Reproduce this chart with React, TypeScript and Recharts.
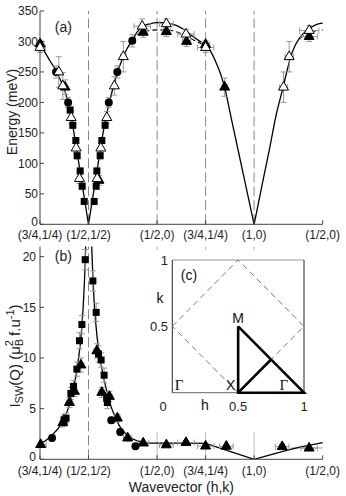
import React from 'react';
import {
  ComposedChart, Line, Scatter, XAxis, YAxis, ReferenceLine, ReferenceDot, ErrorBar,
} from 'recharts';

const FONT = '"Liberation Sans", Arial, Helvetica, sans-serif';
const X_MAX = 2.06066;

// path-length positions of the high-symmetry points along the cut
const xTickValues = [0, 0.35355, 0.85355, 1.20711, 1.56066, 2.06066];
const xTickLabels = ['(3/4,1/4)', '(1/2,1/2)', '(1/2,0)', '(3/4,1/4)', '(1,0)', '(1/2,0)'];
const energyTicks = [0, 50, 100, 150, 200, 250, 300, 350];
const intensityTicks = [0, 5, 10, 15, 20];

type Pt = [number, number];
type EPt = [number, number, number, number]; // x, value, x-error, value-error

// ---------- panel (a): dispersion ----------
const energyFitLeft: Pt[] = [
  [0, 294], [0.0366, 282], [0.0732, 268], [0.1098, 255], [0.1464, 238], [0.1757, 223],
  [0.1977, 206], [0.2196, 187], [0.2343, 168], [0.2489, 148], [0.2782, 107], [0.3075, 65],
  [0.3294, 34], [0.35355, 0],
];
const energyFitMid: Pt[] = [
  [0.35355, 0], [0.3768, 33], [0.4022, 69], [0.4239, 100], [0.4529, 141], [0.4746, 168],
  [0.4964, 192], [0.5109, 205], [0.5326, 224], [0.5616, 247], [0.5978, 270], [0.6341, 288],
  [0.6703, 301], [0.7065, 315], [0.7428, 324], [0.8007, 329], [0.8536, 331], [0.9087, 331],
  [0.9588, 329], [1.0161, 324], [1.0662, 317], [1.1163, 308], [1.1593, 301], [1.20711, 294],
  [1.2459, 283], [1.2898, 262], [1.3191, 245], [1.3484, 222], [1.3923, 176], [1.4362, 130],
  [1.4801, 84], [1.5241, 38], [1.56066, 0],
];
const energyFitMidAlt: Pt[] = [
  [0.6703, 301], [0.7065, 310], [0.7428, 315], [0.8007, 318], [0.8536, 319], [0.9087, 319],
  [0.9588, 318], [1.0161, 314], [1.0662, 309], [1.1163, 303], [1.1593, 298], [1.20711, 294],
];
const energyFitRight: Pt[] = [
  [1.56066, 0], [1.5976, 41], [1.6346, 82], [1.6715, 122], [1.721, 179], [1.7697, 223],
  [1.8007, 252], [1.8318, 278], [1.8635, 295], [1.8931, 306], [1.9374, 317], [1.9817, 324],
  [2.0186, 328], [2.06066, 330],
];
const energyFitRightAlt: Pt[] = [
  [1.8931, 305], [1.9374, 311], [1.9817, 315], [2.0186, 318], [2.06066, 319],
];

const energyOpenTriangles: EPt[] = [
  [0, 290, 0.04, 8], [0.1369, 250, 0.01, 25], [0.1662, 227, 0.01, 22], [0.2269, 175, 0.01, 10],
  [0.2635, 125, 0.01, 8], [0.2877, 75, 0.01, 8], [0.4166, 75, 0.01, 8], [0.4435, 125, 0.01, 8],
  [0.4869, 175, 0.01, 10], [0.542, 227, 0.01, 15], [0.6072, 275, 0.02, 25], [0.7449, 325, 0.06, 12],
  [0.9209, 329, 0.05, 8], [1.0641, 312, 0.06, 8], [1.20711, 290, 0.06, 8], [1.775, 225, 0.03, 25],
  [1.8164, 275, 0.03, 25], [1.9624, 318, 0.07, 8],
];
const energyFilledTriangles: EPt[] = [
  [0, 296, 0.03, 6], [0.183, 225, 0.01, 12], [0.43, 72, 0.01, 8], [0.7522, 315, 0.03, 8],
  [0.9209, 316, 0.03, 8], [1.0683, 300, 0.03, 8], [1.20711, 295, 0.03, 6], [1.3462, 225, 0.02, 15],
  [1.9617, 308, 0.06, 8],
];
const energyCircles: EPt[] = [
  [0.1171, 250, 0.01, 10], [0.205, 200, 0.01, 8], [0.5014, 200, 0.01, 8], [0.5637, 250, 0.01, 10],
  [0.6724, 301, 0.02, 10],
];
const energySquares: EPt[] = [
  [0.2196, 187.5, 0.015, 5], [0.2394, 162.5, 0.015, 5], [0.2613, 137.5, 0.015, 5],
  [0.2709, 112.5, 0.015, 5], [0.2928, 87.5, 0.015, 5], [0.3075, 62.5, 0.015, 5],
  [0.3221, 37.5, 0.015, 5], [0.3949, 37.5, 0.015, 5], [0.4094, 62.5, 0.015, 5],
  [0.4145, 87.5, 0.015, 5], [0.4384, 112.5, 0.015, 5], [0.4507, 137.5, 0.015, 5],
  [0.4746, 162.5, 0.015, 5],
];

// ---------- panel (b): intensity ----------
const intensityFitLeft: Pt[] = [
  [0, 1.5], [0.0366, 1.8], [0.0732, 2.2], [0.1098, 2.7], [0.1464, 3.3], [0.1757, 4.0],
  [0.205, 5.0], [0.2269, 6.0], [0.2489, 7.3], [0.2709, 9.0], [0.2928, 11.3], [0.3075, 13.5],
  [0.3221, 17], [0.3331, 21], [0.3404, 26],
];
const intensityFitRight: Pt[] = [
  [0.3668, 26], [0.3768, 21], [0.384, 18.5], [0.3949, 15.5], [0.4094, 13], [0.424, 11.2],
  [0.4384, 9.9], [0.4601, 8.3], [0.4819, 7.0], [0.5109, 5.5], [0.5471, 4.2], [0.5833, 3.2],
  [0.6268, 2.5], [0.6775, 2.0], [0.7428, 1.7], [0.8007, 1.6], [0.8536, 1.6], [1.0161, 1.6],
  [1.20711, 1.58],
];
const intensityFitTail: Pt[] = [
  [1.20711, 1.58], [1.56066, 0], [1.7697, 0.78], [1.8931, 1.2], [2.06066, 1.65],
];
const intensityFitAlt: Pt[] = [[1.83, 1.12], [2.06066, 1.12]];

const intensityTriangles: EPt[] = [
  [0.005, 1.45, 0.04, 0.2], [0.1662, 3.6, 0.02, 0.4], [0.2145, 5.6, 0.02, 0.5], [0.2511, 6.7, 0.02, 0.5],
  [0.298, 9.3, 0.02, 0.7], [0.4145, 10.7, 0.02, 0.7], [0.4507, 6.6, 0.02, 0.5], [0.5058, 6.2, 0.02, 0.5],
  [0.5638, 4.06, 0.02, 0.4], [0.6391, 2.1, 0.03, 0.3], [0.7522, 1.6, 0.04, 0.2], [0.9209, 1.42, 0.05, 0.2],
  [1.0641, 1.65, 0.06, 0.2], [1.20711, 1.3, 0.06, 0.2], [1.3579, 1.28, 0.05, 0.2], [1.7653, 1.25, 0.05, 0.2],
  [1.9617, 1.1, 0.06, 0.2],
];
const intensityCircles: EPt[] = [
  [0.0878, 2.1, 0.01, 0.3], [0.5196, 3.85, 0.01, 0.3], [0.5848, 2.7, 0.01, 0.3], [0.6957, 1.3, 0.01, 0.2],
];
const intensitySquares: EPt[] = [
  [0.1757, 3.9, 0.01, 0.5], [0.1903, 4.06, 0.01, 0.5], [0.225, 6.5, 0.01, 0.6], [0.2438, 7.2, 0.01, 0.6],
  [0.2687, 8.9, 0.01, 0.7], [0.2877, 11.7, 0.01, 0.8], [0.3053, 13.3, 0.01, 0.9], [0.3294, 19.7, 0.01, 1.0],
  [0.3855, 17.6, 0.01, 1.0], [0.4094, 14.5, 0.01, 0.9], [0.4261, 10.4, 0.01, 0.8], [0.4456, 9.8, 0.01, 0.7],
  [0.4674, 8.3, 0.01, 0.7], [0.486, 6.0, 0.01, 0.6], [0.4913, 5.6, 0.01, 0.6],
];

// ---------- panel (c): Brillouin zone inset ----------
const zoneDiamond: Pt[] = [[0, 0.5], [0.5, 1], [1, 0.5], [0.5, 0], [0, 0.5]];
const zonePath: Pt[] = [[0.5, 0.5], [0.5, 0], [1, 0], [0.5, 0.5]];
const zonePathBranch: Pt[] = [[0.5, 0], [0.75, 0.25]];
const insetXTicks = [0, 0.5, 1];
const insetXTickLabels = ['0', '0.5', '1'];
const insetYTicks = [0.5, 1];
const insetYTickLabels = ['0.5', '1'];

const pts = (a: Pt[]) => a.map(([x, y]) => ({ x, y }));
const epts = (a: EPt[]) =>
  a.map(([x, y, ex, ey]) => ({ x, y, ex: [Math.min(ex, x), Math.min(ex, X_MAX - x)], ey }));

const tickFont = { fontSize: 12, fill: '#222', fontFamily: FONT };
const fmtX = (_v: number, i: number) => xTickLabels[i] ?? '';

// y tick text: the zero label sits a little higher so it clears the x labels
const YTick = (p: any) => {
  const { x, y, payload } = p;
  const lift = payload.value === 0 ? -3 : 0;
  return (
    <text x={x} y={y + lift} dy="0.355em" textAnchor="end" fontSize={12} fontFamily={FONT} fill="#222">
      {String(payload.value)}
    </text>
  );
};

const triangleShape = (fill: string) => (p: any) => {
  const { cx, cy } = p;
  if (cx == null || cy == null) return <g />;
  const s = 10;
  const h = s * 0.866;
  return (
    <path
      d={`M${cx},${cy - (h * 2) / 3}L${cx + s / 2},${cy + h / 3}L${cx - s / 2},${cy + h / 3}Z`}
      fill={fill}
      stroke="#000"
      strokeWidth={1}
    />
  );
};
const squareShape = (p: any) =>
  p.cx == null ? <g /> : <rect x={p.cx - 3.5} y={p.cy - 3.5} width={7} height={7} fill="#000" />;
const circleShape = (p: any) =>
  p.cx == null ? <g /> : <circle cx={p.cx} cy={p.cy} r={4} fill="#000" />;

const errBars = (key: string) => [
  <ErrorBar key={key + 'x'} dataKey="ex" direction="x" width={3} stroke="#999" strokeWidth={1} />,
  <ErrorBar key={key + 'y'} dataKey="ey" direction="y" width={3} stroke="#999" strokeWidth={1} />,
];

const EnergyLabel = () => (
  <text transform="translate(17.3,112) rotate(-90)" textAnchor="middle" fontSize={14} fontFamily={FONT} fill="#222">
    Energy (meV)
  </text>
);

const IntensityLabel = () => (
  <text transform="translate(20,116) rotate(-90)" textAnchor="middle" fontSize={15} fontFamily={FONT} fill="#222">
    I<tspan fontSize={11} dy={3}>SW</tspan>
    <tspan dy={-3}>(Q) (μ</tspan>
    <tspan fontSize={11} dy={3}>B</tspan>
    <tspan fontSize={11} dx={-7.3} dy={-10}>2</tspan>
    <tspan dy={7}> f.u</tspan>
    <tspan fontSize={11} dy={-6}>-1</tspan>
    <tspan dy={6}>)</tspan>
  </text>
);

const InsetXTick = (p: any) => {
  const { x, y, payload } = p;
  const i = insetXTicks.indexOf(payload.value);
  const dx = payload.value === 0 ? -9.3 : 0;
  return (
    <text x={x + dx} y={y + 17.8} textAnchor="middle" fontSize={13} fontFamily={FONT} fill="#222">
      {insetXTickLabels[i]}
    </text>
  );
};
const InsetYTick = (p: any) => {
  const { x, y, payload } = p;
  const i = insetYTicks.indexOf(payload.value);
  return (
    <text x={x - 4.3} y={y} dy="0.35em" textAnchor="end" fontSize={13} fontFamily={FONT} fill="#222">
      {insetYTickLabels[i]}
    </text>
  );
};

const AX = { xAxisId: 'b', yAxisId: 'l' } as const;

function EnergyPanel() {
  return (
    <ComposedChart width={346} height={245} margin={{ top: 11, right: 23.3, bottom: 0, left: 0 }}>
      <XAxis xAxisId="b" type="number" dataKey="x" domain={[0, X_MAX]} ticks={xTickValues} interval={0}
        tickFormatter={fmtX} height={20.7} tickSize={-4} tickMargin={10} stroke="#444" tick={tickFont} />
      <XAxis xAxisId="t" orientation="top" type="number" dataKey="x" domain={[0, X_MAX]} ticks={xTickValues}
        interval={0} height={0} tickSize={-4} tick={false} stroke="#444" />
      <YAxis yAxisId="l" type="number" dataKey="y" domain={[0, 350]} ticks={energyTicks} interval={0} width={40}
        tickSize={-4} tickMargin={6} stroke="#444" tick={<YTick />} label={{ content: () => <EnergyLabel /> }} />
      <YAxis yAxisId="r" orientation="right" type="number" dataKey="y" domain={[0, 350]} ticks={energyTicks}
        interval={0} width={0} tickSize={-4} tick={false} stroke="#444" />
      {xTickValues.slice(1, 5).map((v) => (
        <ReferenceLine key={v} {...AX} x={v} stroke="#888" strokeDasharray="10 4" />
      ))}
      <Line {...AX} data={pts(energyFitLeft)} dataKey="y" type="monotone" stroke="#000" strokeWidth={1.3} dot={false} isAnimationActive={false} />
      <Line {...AX} data={pts(energyFitMidAlt)} dataKey="y" type="monotone" stroke="#000" strokeWidth={1.1} strokeDasharray="5 3" dot={false} isAnimationActive={false} />
      <Line {...AX} data={pts(energyFitMid)} dataKey="y" type="monotone" stroke="#000" strokeWidth={1.3} dot={false} isAnimationActive={false} />
      <Line {...AX} data={pts(energyFitRightAlt)} dataKey="y" type="monotone" stroke="#000" strokeWidth={1.1} strokeDasharray="5 3" dot={false} isAnimationActive={false} />
      <Line {...AX} data={pts(energyFitRight)} dataKey="y" type="monotone" stroke="#000" strokeWidth={1.3} dot={false} isAnimationActive={false} />
      <Scatter {...AX} data={epts(energySquares)} dataKey="y" shape={squareShape} isAnimationActive={false}>
        {errBars('sq')}
      </Scatter>
      <Scatter {...AX} data={epts(energyCircles)} dataKey="y" shape={circleShape} isAnimationActive={false}>
        {errBars('ci')}
      </Scatter>
      <Scatter {...AX} data={epts(energyFilledTriangles)} dataKey="y" shape={triangleShape('#000')} isAnimationActive={false}>
        {errBars('ft')}
      </Scatter>
      <Scatter {...AX} data={epts(energyOpenTriangles)} dataKey="y" shape={triangleShape('#fff')} isAnimationActive={false}>
        {errBars('ot')}
      </Scatter>
      <ReferenceDot {...AX} x={0.17} y={324} r={0} fill="none" stroke="none"
        label={{ value: '(a)', position: 'center', fontSize: 14, fill: '#222', fontFamily: FONT }} />
    </ComposedChart>
  );
}

function IntensityPanel() {
  return (
    <ComposedChart width={346} height={256} margin={{ top: 6.5, right: 23.3, bottom: 0, left: 0 }}>
      <XAxis xAxisId="b" type="number" dataKey="x" domain={[0, X_MAX]} ticks={xTickValues} interval={0}
        tickFormatter={fmtX} height={36.7} tickSize={-4} tickMargin={11} stroke="#444" tick={tickFont}
        label={{ value: 'Wavevector (h,k)', position: 'insideBottom', offset: 4, fontSize: 14, fill: '#222', fontFamily: FONT }} />
      <XAxis xAxisId="t" orientation="top" type="number" dataKey="x" domain={[0, X_MAX]} ticks={xTickValues}
        interval={0} height={0} tickSize={-4} tick={false} stroke="#444" />
      <YAxis yAxisId="l" type="number" dataKey="y" domain={[0, 21]} allowDataOverflow ticks={intensityTicks} interval={0}
        width={40} tickSize={-4} tickMargin={8} stroke="#444" tick={<YTick />} label={{ content: () => <IntensityLabel /> }} />
      <YAxis yAxisId="r" orientation="right" type="number" dataKey="y" domain={[0, 21]} allowDataOverflow ticks={intensityTicks}
        interval={0} width={0} tickSize={-4} tick={false} stroke="#444" />
      <ReferenceLine {...AX} x={xTickValues[1]} stroke="#888" strokeDasharray="10 4" />
      {xTickValues.slice(2, 5).map((v) => (
        <ReferenceLine key={v} {...AX} x={v} stroke="#bbb" />
      ))}
      <Line {...AX} data={pts(intensityFitAlt)} dataKey="y" type="linear" stroke="#999" strokeWidth={1} dot={false} isAnimationActive={false} />
      <Line {...AX} data={pts(intensityFitLeft)} dataKey="y" type="monotone" stroke="#000" strokeWidth={1.3} dot={false} isAnimationActive={false} />
      <Line {...AX} data={pts(intensityFitRight)} dataKey="y" type="monotone" stroke="#000" strokeWidth={1.3} dot={false} isAnimationActive={false} />
      <Line {...AX} data={pts(intensityFitTail)} dataKey="y" type="linear" stroke="#000" strokeWidth={1.3} dot={false} isAnimationActive={false} />
      <Scatter {...AX} data={epts(intensitySquares)} dataKey="y" shape={squareShape} isAnimationActive={false}>
        {errBars('isq')}
      </Scatter>
      <Scatter {...AX} data={epts(intensityCircles)} dataKey="y" shape={circleShape} isAnimationActive={false}>
        {errBars('ici')}
      </Scatter>
      <Scatter {...AX} data={epts(intensityTriangles)} dataKey="y" shape={triangleShape('#000')} isAnimationActive={false}>
        {errBars('itr')}
      </Scatter>
      <ReferenceDot {...AX} x={0.17} y={20.1} r={0} fill="none" stroke="none"
        label={{ value: '(b)', position: 'center', fontSize: 14, fill: '#222', fontFamily: FONT }} />
    </ComposedChart>
  );
}

function ZoneInset() {
  const lbl = (value: string, extra: any = {}) => ({
    value, position: 'center', fontSize: 14, fill: '#111', fontFamily: FONT, ...extra,
  });
  const serif = '"Liberation Serif", "DejaVu Serif", serif';
  return (
    <ComposedChart width={162} height={182} margin={{ top: 10, right: 8, bottom: 19.3, left: 0 }}>
      <XAxis type="number" dataKey="x" domain={[0, 1]} ticks={insetXTicks} interval={0} height={20}
        axisLine={false} tickLine={false} tickSize={0} tickMargin={0} tick={<InsetXTick />} />
      <YAxis type="number" dataKey="y" domain={[0, 1]} ticks={insetYTicks} interval={0} width={22.3}
        axisLine={false} tickLine={false} tickSize={0} tickMargin={0} tick={<InsetYTick />} />
      <ReferenceLine y={1} stroke="#999" />
      <ReferenceLine y={0} stroke="#666" />
      <ReferenceLine x={0} stroke="#222" />
      <ReferenceLine x={1} stroke="#222" />
      <Line data={pts(zoneDiamond)} dataKey="y" type="linear" stroke="#777" strokeWidth={1} strokeDasharray="6 4" dot={false} isAnimationActive={false} />
      <Line data={pts(zonePath)} dataKey="y" type="linear" stroke="#000" strokeWidth={2.6} dot={false} isAnimationActive={false} />
      <Line data={pts(zonePathBranch)} dataKey="y" type="linear" stroke="#000" strokeWidth={2.6} dot={false} isAnimationActive={false} />
      <ReferenceDot x={0.5} y={0.5} r={0} fill="none" stroke="none" label={lbl('M', { position: 'top', offset: 3 })} />
      <ReferenceDot x={0.444} y={0.058} r={0} fill="none" stroke="none" label={lbl('X')} />
      <ReferenceDot x={0.847} y={0.058} r={0} fill="none" stroke="none" label={lbl('Γ', { fontFamily: serif, fontSize: 15 })} />
      <ReferenceDot x={0.052} y={0.058} r={0} fill="none" stroke="none" label={lbl('Γ', { fontFamily: serif, fontSize: 15 })} />
      <ReferenceDot x={0.127} y={0.885} r={0} fill="none" stroke="none" label={lbl('(c)')} />
      <ReferenceDot x={0.248} y={0} r={0} fill="none" stroke="none" label={lbl('h', { position: 'bottom', offset: 7.8 })} />
      <ReferenceDot x={0} y={0.717} r={0} fill="none" stroke="none" label={lbl('k', { position: 'left', offset: 8.8 })} />
    </ComposedChart>
  );
}

export default function App() {
  return (
    <div style={{ position: 'absolute', left: 0, top: 0, width: 346, height: 496, background: '#fff', fontFamily: FONT }}>
      <div style={{ position: 'absolute', left: 0, top: 0 }}>
        <EnergyPanel />
      </div>
      <div style={{ position: 'absolute', left: 0, top: 240 }}>
        <IntensityPanel />
      </div>
      <div style={{ position: 'absolute', left: 150, top: 250, width: 162, height: 182, background: '#fff' }}>
        <ZoneInset />
      </div>
    </div>
  );
}
